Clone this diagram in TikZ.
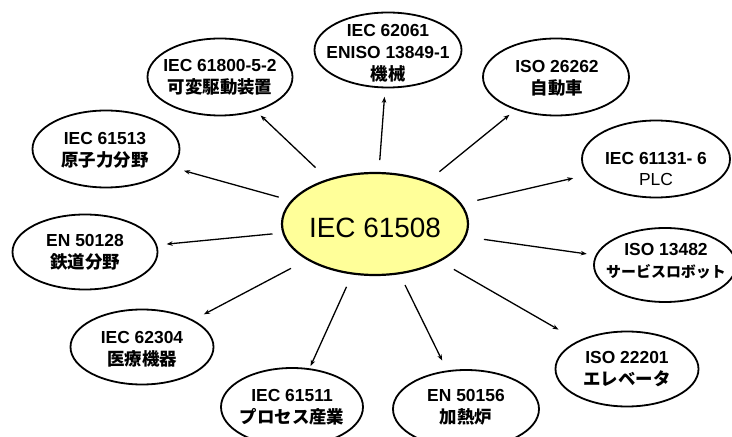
\documentclass[tikz,border=0pt]{standalone}
\usepackage{fontspec}
\setmainfont{Liberation Sans}
\newfontfamily\cjk{Noto Sans CJK JP}
\usetikzlibrary{shapes.geometric,arrows.meta,calc}
\definecolor{centerfill}{RGB}{255,255,153}
\begin{document}
\begin{tikzpicture}[x=1bp,y=-1bp,
  ell/.style={draw, ellipse, line width=1.8bp, inner sep=0pt},
  lbl/.style={align=center, inner sep=0pt, font=\fontsize{17.5}{22}\selectfont\bfseries},
  arr/.style={-{Stealth[length=6bp,width=4.5bp]}, line width=1.3bp}]
\useasboundingbox (0,0) rectangle (732,437);
% centre
\node[ell, fill=centerfill, line width=2.2bp, minimum width=186bp, minimum height=102bp] (C) at (375,224) {};
\node[inner sep=0pt, font=\fontsize{28}{30}\selectfont] (Ct) at (375,228) {IEC 61508};
% satellites
\node[ell, minimum width=145bp, minimum height=77bp] (a) at (220,77) {};
\node[lbl] (at) at (220,77) {IEC 61800-5-2\\{\cjk 可変駆動装置}};
\node[ell, minimum width=147bp, minimum height=77bp] (b) at (106,149) {};
\node[lbl] (bt) at (105,150) {IEC 61513\\{\cjk 原子力分野}};
\node[ell, minimum width=147bp, minimum height=75bp] (c) at (388,50) {};
\node[lbl] (ct) at (388,53) {IEC 62061\\ENISO 13849-1\\{\cjk 機械}};
\node[ell, minimum width=146bp, minimum height=77bp] (d) at (556,77) {};
\node[lbl] (dt) at (557,78) {ISO 26262\\{\cjk 自動車}};
\node[ell, minimum width=148bp, minimum height=77bp] (e) at (656,159) {};
\node[lbl] (et) at (656,169) {IEC 61131- 6\\\mdseries PLC};
\node[ell, minimum width=142bp, minimum height=74bp] (f) at (665,265) {};
\node[lbl] (ft) at (666,261) {ISO 13482\\{\cjk\fontsize{15}{22}\selectfont サービスロボット}};
\node[ell, minimum width=143bp, minimum height=75bp] (g) at (627,369) {};
\node[lbl] (gt) at (627,369) {ISO 22201\\{\cjk エレベータ}};
\node[ell, minimum width=146bp, minimum height=78bp] (h) at (466,409) {};
\node[lbl] (ht) at (466,407) {EN 50156\\{\cjk 加熱炉}};
\node[ell, minimum width=142bp, minimum height=78bp] (i) at (292,407) {};
\node[lbl] (it) at (292,407) {IEC 61511\\{\cjk プロセス産業}};
\node[ell, minimum width=143bp, minimum height=75bp] (j) at (142,347) {};
\node[lbl] (jt) at (142,349) {IEC 62304\\{\cjk 医療機器}};
\node[ell, minimum width=145bp, minimum height=75bp] (k) at (85,252) {};
\node[lbl] (kt) at (85,252) {EN 50128\\{\cjk 鉄道分野}};
% arrows
\draw[arr] ($(C)!82bp!(a)$) -- ($(a)!56bp!(C)$);
\draw[arr] ($(C)!100bp!(b)$) -- ($(b)!81bp!(C)$);
\draw[arr] ($(C)!64bp!(c)$) -- ($(c)!47bp!(C)$);
\draw[arr] ($(C)!83bp!(d)$) -- ($(d)!60bp!(C)$);
\draw[arr] ($(C)!105bp!(e)$) -- ($(e)!85bp!(C)$);
\draw[arr] ($(C)!110bp!(f)$) -- ($(f)!79bp!(C)$);
\draw[arr] ($(C)!91bp!(g)$) -- ($(g)!79bp!(C)$);
\draw[arr] ($(C)!68bp!(h)$) -- ($(h)!54bp!(C)$);
\draw[arr] ($(C)!69bp!(i)$) -- ($(i)!45bp!(C)$);
\draw[arr] ($(C)!95bp!(j)$) -- ($(j)!70bp!(C)$);
\draw[arr] ($(C)!103bp!(k)$) -- ($(k)!82bp!(C)$);
\end{tikzpicture}
\end{document}
